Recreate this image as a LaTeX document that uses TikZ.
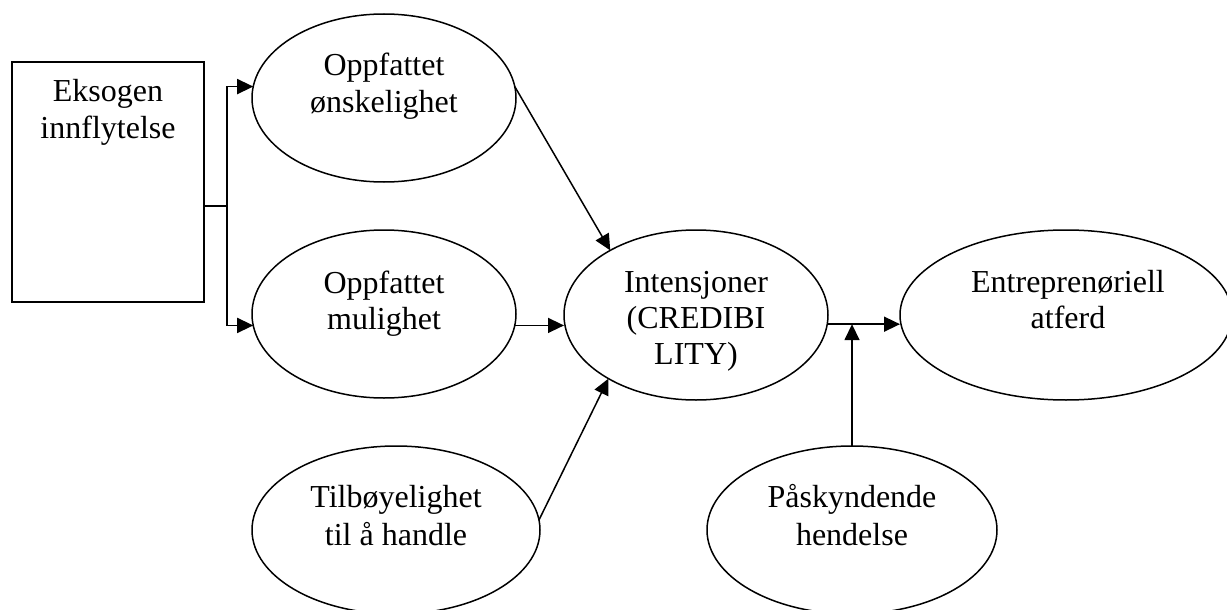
\documentclass[tikz,border=0pt]{standalone}
\usepackage{fontspec}
\setmainfont{Liberation Serif}
\usetikzlibrary{arrows.meta,shapes.geometric}
\newcommand\txtsize{\fontsize{32pt}{37pt}\selectfont}
\begin{document}
\begin{tikzpicture}[x=1pt,y=-1pt,
  lw/.style={line width=1.5pt},
  oval/.style={draw, ellipse, lw, inner sep=0pt, outer sep=0pt},
  txt/.style={anchor=base, inner sep=0pt, font=\txtsize},
  arr/.style={lw, -{Triangle[length=16pt,width=15pt]}}]
\useasboundingbox (0,0) rectangle (1227,610);
\clip (0,0) rectangle (1227,610);
% box
\node[draw, lw, inner sep=0pt, outer sep=0pt, minimum width=192pt, minimum height=240pt, anchor=north west] (box) at (12,62) {};
% ellipses
\node[oval, minimum width=264pt, minimum height=168pt] (e1) at (384,98) {};
\node[oval, minimum width=264pt, minimum height=168pt] (e2) at (384,314) {};
\node[oval, minimum width=264pt, minimum height=170pt] (e3) at (696,315) {};
\node[oval, minimum width=332pt, minimum height=170pt] (e4) at (1066,315) {};
\node[oval, minimum width=288pt, minimum height=168pt] (e5) at (396,530) {};
\node[oval, minimum width=290pt, minimum height=168pt] (e6) at (852,530) {};
% texts
\node[txt] (t1a) at (108,102) {Eksogen};
\node[txt] (t1b) at (108,138) {innflytelse};
\node[txt] (t2a) at (384,76) {Oppfattet};
\node[txt] (t2b) at (384,113) {ønskelighet};
\node[txt] (t3a) at (384,293) {Oppfattet};
\node[txt] (t3b) at (384,329) {mulighet};
\node[txt] (t4a) at (696,292) {Intensjoner};
\node[txt] (t4b) at (696,328) {(CREDIBI};
\node[txt] (t4c) at (696,364) {LITY)};
\node[txt] (t5a) at (1068,292) {Entreprenøriell};
\node[txt] (t5b) at (1068,328) {atferd};
\node[txt] (t6a) at (396,507) {Tilbøyelighet};
\node[txt] (t6b) at (396,545) {til å handle};
\node[txt] (t7a) at (852,507) {Påskyndende};
\node[txt] (t7b) at (852,545) {hendelse};
% connectors
\coordinate (rj) at ([yshift=96pt]box.south east);
\coordinate (bj) at ([xshift=23pt]rj);
\draw[lw] (rj) -- (bj);
\draw[arr] (bj) |- (e1.175);
\draw[arr] (bj) |- (e2.185);
\draw[arr] (e1.5.7) -- (e3.143.8);
\draw[arr] (e2.-5.7) -- (e2.-5.7 -| e3.west);
\draw[arr] (e5.4.8) -- (e3.216.6);
\draw[arr] (e3.-4.8) -- (e3.-4.8 -| e4.west);
\coordinate (j) at (e6.north |- e3.-4.8);
\draw[arr] (e6.north) -- (j);
\end{tikzpicture}
\end{document}
